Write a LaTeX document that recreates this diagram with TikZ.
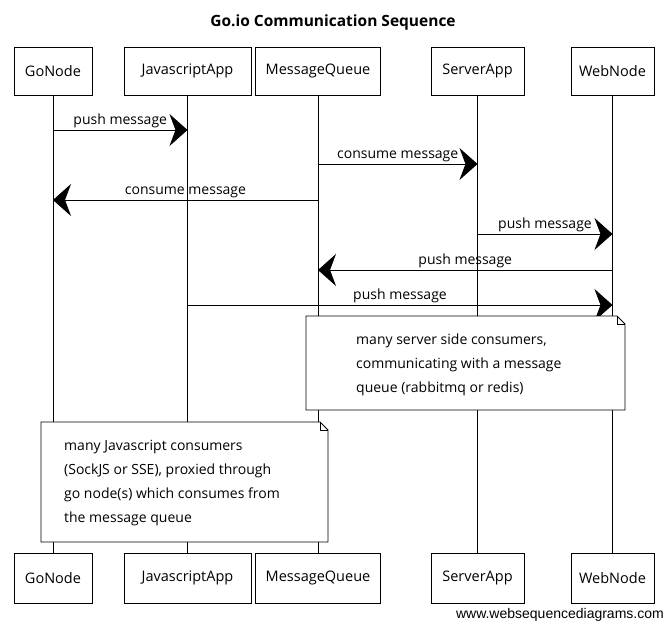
\documentclass[tikz,border=0pt]{standalone}
\usepackage{fontspec}
\setmainfont{Open Sans}
\newfontfamily\footfont{Liberation Sans}
\usetikzlibrary{arrows.meta}
\begin{document}
\begin{tikzpicture}[x=1pt,y=-1pt,
  actor/.style={draw, line width=0.8pt, fill=white, inner sep=0pt, font=\fontsize{14.5}{16}\selectfont},
  life/.style={line width=0.6pt},
  msg/.style={line width=0.8pt, -{Stealth[length=18pt,width=32pt,inset=6pt]}},
  lbl/.style={font=\fontsize{14}{16}\selectfont, above, inner sep=2pt},
  notebox/.style={draw, line width=0.8pt, fill=white},
  notetext/.style={align=left, anchor=west, inner sep=0pt, font=\fontsize{14}{24}\selectfont}]
\useasboundingbox[fill=white] (0,0) rectangle (665,624);
\node[font=\fontsize{15.5}{18}\selectfont\bfseries] (title) at (333,22) {Go.io Communication Sequence};
% top actors
\node[actor, minimum width=78pt, minimum height=48pt] (gt) at (53,71) {GoNode};
\node[actor, minimum width=127pt, minimum height=48pt] (jt) at (187.5,71) {JavascriptApp};
\node[actor, minimum width=125pt, minimum height=48pt] (mt) at (318,71) {MessageQueue};
\node[actor, minimum width=93pt, minimum height=48pt] (st) at (477.5,71) {ServerApp};
\node[actor, minimum width=83pt, minimum height=48pt] (wt) at (612.5,71) {WebNode};
% bottom actors
\node[actor, minimum width=78pt, minimum height=50pt] (gb) at (53,578) {GoNode};
\node[actor, minimum width=127pt, minimum height=50pt] (jb) at (187.5,578) {JavascriptApp};
\node[actor, minimum width=125pt, minimum height=50pt] (mb) at (318,578) {MessageQueue};
\node[actor, minimum width=93pt, minimum height=50pt] (sb) at (477.5,578) {ServerApp};
\node[actor, minimum width=83pt, minimum height=50pt] (wb) at (612.5,578) {WebNode};
% lifelines
\draw[life] (gt.south) -- (gb.north);
\draw[life] (jt.south) -- (jb.north);
\draw[life] (mt.south) -- (mb.north);
\draw[life] (st.south) -- (sb.north);
\draw[life] (wt.south) -- (wb.north);
% message rows
\coordinate (y1) at (0,130);
\coordinate (y2) at (0,164);
\coordinate (y3) at (0,200);
\coordinate (y4) at (0,234);
\coordinate (y5) at (0,270);
\coordinate (y6) at (0,305);
\draw[msg] (gt |- y1) -- node[lbl] {push message} (jt |- y1);
\draw[msg] (mt |- y2) -- node[lbl] {consume message} (st |- y2);
\draw[msg] (mt |- y3) -- node[lbl] {consume message} (gt |- y3);
\draw[msg] (st |- y4) -- node[lbl] {push message} (wt |- y4);
\draw[msg] (wt |- y5) -- node[lbl] {push message} (mt |- y5);
\draw[msg] (jt |- y6) -- node[lbl] {push message} (wt |- y6);
% note 1
\draw[notebox] (306,316) -- (617,316) -- (625,324) -- (625,410) -- (306,410) -- cycle;
\draw[line width=0.6pt] (617,316) -- (617,324) -- (625,324);
\node[notetext] (n1) at (356,365) {many server side consumers,\\communicating with a message\\queue (rabbitmq or redis)};
% note 2
\draw[notebox] (41,422) -- (320,422) -- (328,430) -- (328,542) -- (41,542) -- cycle;
\draw[line width=0.6pt] (320,422) -- (320,430) -- (328,430);
\node[notetext] (n2) at (64,483.5) {many Javascript consumers\\(SockJS or SSE), proxied through\\go node(s) which consumes from\\the message queue};
% footer
\node[anchor=east, inner sep=0pt, font=\footfont\fontsize{14}{16}\selectfont] (foot) at (664,615) {www.websequencediagrams.com};
\end{tikzpicture}
\end{document}
